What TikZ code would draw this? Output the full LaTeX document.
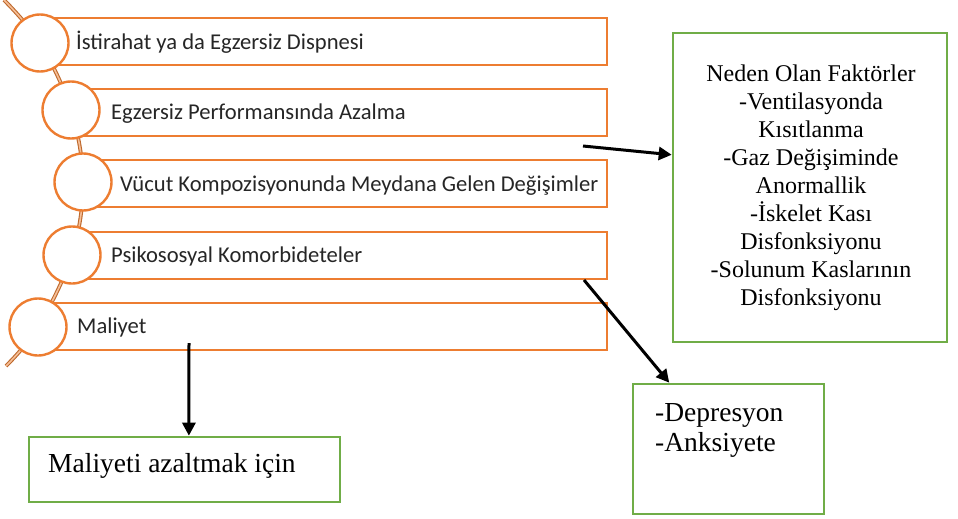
\documentclass[tikz,border=0pt]{standalone}
\usepackage{fontspec}
\setmainfont{Liberation Serif}
\newfontfamily\barfont{Carlito}
\usetikzlibrary{arrows.meta,calc}

\definecolor{barorange}{RGB}{237,125,49}
\definecolor{spinedark}{RGB}{190,105,45}
\definecolor{spinelight}{RGB}{246,190,150}
\definecolor{boxgreen}{RGB}{112,173,71}

\tikzset{
  bar/.style={draw=barorange, line width=2.4pt, fill=white, rectangle,
    inner sep=0pt, outer sep=0pt, minimum height=47pt, anchor=north east},
  disc/.style={draw=barorange, line width=2.4pt, fill=white, circle,
    inner sep=0pt, minimum size=57pt},
  bartext/.style={font=\barfont\fontsize{22.6}{26}\selectfont, text=black!85,
    inner sep=0pt, anchor=mid west},
  greenbox/.style={draw=boxgreen, line width=2.6pt, rectangle, inner sep=0pt},
  boxtext/.style={font=\fontsize{24}{28}\selectfont, inner sep=0pt},
  bigtext/.style={font=\fontsize{27.5}{30}\selectfont, inner sep=0pt},
  link/.style={line width=3pt, -{Triangle[length=13pt,width=13pt]}},
  spine/.style={draw=spinedark, line width=1.1pt, double=spinelight,
    double distance=1.6pt}
}

\begin{document}
\begin{tikzpicture}[x=1pt,y=-1pt]
\useasboundingbox (0,0) rectangle (958,519);

% orange bars, each starting at the centre of its circle
\node[bar, minimum width=567pt] (b1) at (607,18)  {};
\node[bar, minimum width=536pt] (b2) at (607,89)  {};
\node[bar, minimum width=524pt] (b3) at (607,160) {};
\node[bar, minimum width=535pt] (b4) at (607,232) {};
\node[bar, minimum width=569pt] (b5) at (607,303) {};

% spine threading the circles
\draw[spine] plot[smooth, tension=0.6] coordinates
  {(4,0) (40,43) (71,110) (83,182) (72,255) (38,327) (6,366)};

% circles
\node[disc] (c1) at (40,43)  {};
\node[disc] (c2) at (71,110) {};
\node[disc] (c3) at (83,182) {};
\node[disc] (c4) at (72,255) {};
\node[disc] (c5) at (38,327) {};

% bar labels
\node[bartext] (t1) at (76,47)   {İstirahat ya da Egzersiz Dispnesi};
\node[bartext] (t2) at (111,117) {Egzersiz Performansında Azalma};
\node[bartext] (t3) at (120,189) {Vücut Kompozisyonunda Meydana Gelen Değişimler};
\node[bartext] (t4) at (111,260) {Psikososyal Komorbideteler};
\node[bartext] (t5) at (77,331)  {Maliyet};

% green boxes
\node[greenbox, minimum width=274pt, minimum height=309pt] (fa) at (810,187.5) {};
\node[boxtext, align=center] (fatext) at (811,188) {Neden Olan Faktörler\\-Ventilasyonda\\Kısıtlanma\\-Gaz Değişiminde\\Anormallik\\-İskelet Kası\\Disfonksiyonu\\-Solunum Kaslarının\\Disfonksiyonu};

\node[greenbox, minimum width=191pt, minimum height=130pt] (dp) at (728.5,449) {};
\node[bigtext, align=left, anchor=north west] (dptext) at (655,403.5) {-Depresyon\\-Anksiyete};

\node[greenbox, minimum width=311pt, minimum height=65pt] (ml) at (184.5,469.5) {};
\node[bigtext, anchor=mid west] (mltext) at (48,470) {Maliyeti azaltmak için};

% arrow start points
\coordinate (s1) at (583,146);
\coordinate (s2) at (584,280);
\coordinate (s3) at (189,343);

\draw[link] (s1) -- ($(fa.north west)!0.395!(fa.south west)$);
\draw[link] (s2) -- ($(dp.north west)!0.194!(dp.north east)$);
\draw[link] (s3) -- ($(ml.north west)!0.514!(ml.north east)$);
\end{tikzpicture}
\end{document}
